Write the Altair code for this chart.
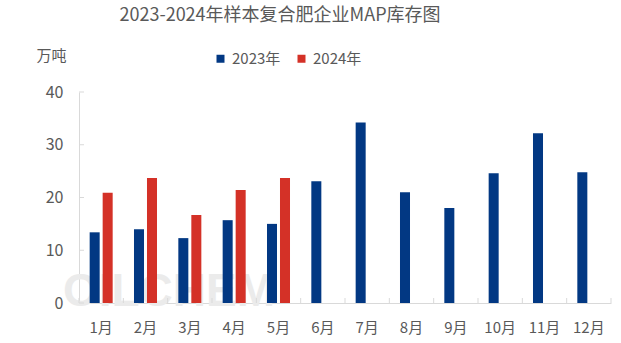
import altair as alt
import pandas as pd

months = ["1月", "2月", "3月", "4月", "5月", "6月", "7月", "8月", "9月", "10月", "11月", "12月"]
values_2023 = [13.4, 14.0, 12.3, 15.7, 15.0, 23.1, 34.2, 21.0, 18.0, 24.6, 32.2, 24.8]
values_2024 = [20.9, 23.7, 16.7, 21.4, 23.7]
series = ["2023年", "2024年"]
colors = ["#023883", "#D43127"]
y_ticks = [0, 10, 20, 30, 40]
title_text = "2023-2024年样本复合肥企业MAP库存图"
unit_text = "万吨"

rows = []
for m, v in zip(months, values_2023):
    rows.append({"month": m, "series": series[0], "value": v})
for m, v in zip(months, values_2024):
    rows.append({"month": m, "series": series[1], "value": v})
df = pd.DataFrame(rows)

FONT = "Noto Sans CJK SC"
TXT = "#595959"
AX = "#d9d9d9"
W, H = 532, 211

x_scale = alt.Scale(domain=months, paddingInner=0, paddingOuter=0)
y_scale = alt.Scale(domain=[0, 40], nice=False)

bars = alt.Chart(df).mark_bar().encode(
    x=alt.X("month:N", scale=x_scale, sort=months,
            axis=alt.Axis(title=None, labelAngle=0, labelFont=FONT, labelFontSize=15,
                          labelColor=TXT, domainColor=AX, tickSize=0, labelPadding=17)),
    xOffset=alt.XOffset("series:N", scale=alt.Scale(domain=series, paddingInner=0.23, paddingOuter=0.82)),
    y=alt.Y("value:Q", scale=y_scale,
            axis=alt.Axis(values=y_ticks, grid=False, labelFont=FONT, labelFontSize=16,
                          labelColor=TXT, domainColor=AX, tickSize=0, labelPadding=16,
                          title=unit_text, titleAngle=0, titleAlign="left", titleBaseline="middle",
                          titleX=-43, titleY=-37, titleFont=FONT, titleFontSize=15,
                          titleFontWeight="normal", titleColor=TXT)),
    color=alt.Color("series:N", scale=alt.Scale(domain=series, range=colors),
                    legend=alt.Legend(title=None, orient="none", direction="horizontal",
                                      legendX=134, legendY=-41, symbolType="square",
                                      symbolSize=64, symbolStrokeWidth=0, labelFont=FONT,
                                      labelFontSize=15, labelColor=TXT, labelOffset=4,
                                      columnPadding=13, padding=0)),
)

ytick_rules = alt.Chart(pd.DataFrame({"v": y_ticks})).mark_rule(color=AX).encode(
    y=alt.Y("v:Q", scale=y_scale), x=alt.value(0), x2=alt.value(5)
)
xtick_rules = alt.Chart(pd.DataFrame({"month": months})).mark_rule(color=AX).encode(
    x=alt.X("month:N", scale=x_scale, sort=months, bandPosition=0),
    y=alt.value(H - 5), y2=alt.value(H)
)
xtick_end = alt.Chart(pd.DataFrame({"month": [months[-1]]})).mark_rule(color=AX).encode(
    x=alt.X("month:N", scale=x_scale, sort=months, bandPosition=1),
    y=alt.value(H - 5), y2=alt.value(H)
)

watermark = alt.Chart(pd.DataFrame({"t": ["OILCHEM"]})).mark_text(
    font="Liberation Sans", fontSize=46, fontWeight="bold", color="#ebebeb",
    align="center", baseline="middle"
).encode(text="t:N", x=alt.value(90), y=alt.value(200))

title = alt.Chart(pd.DataFrame({"t": [title_text]})).mark_text(
    font=FONT, fontSize=18, color=TXT, align="center", baseline="middle"
).encode(text="t:N", x=alt.value(201), y=alt.value(-76))

chart = alt.layer(watermark, bars, ytick_rules, xtick_rules, xtick_end, title).properties(
    width=W, height=H,
    background="white",
    autosize=alt.AutoSizeParams(type="none"),
    padding={"left": 79, "top": 92, "right": 10, "bottom": 40},
).configure_view(strokeWidth=0, stroke=None)

chart.save("out.html", embed_options={"renderer": "svg", "actions": False})
